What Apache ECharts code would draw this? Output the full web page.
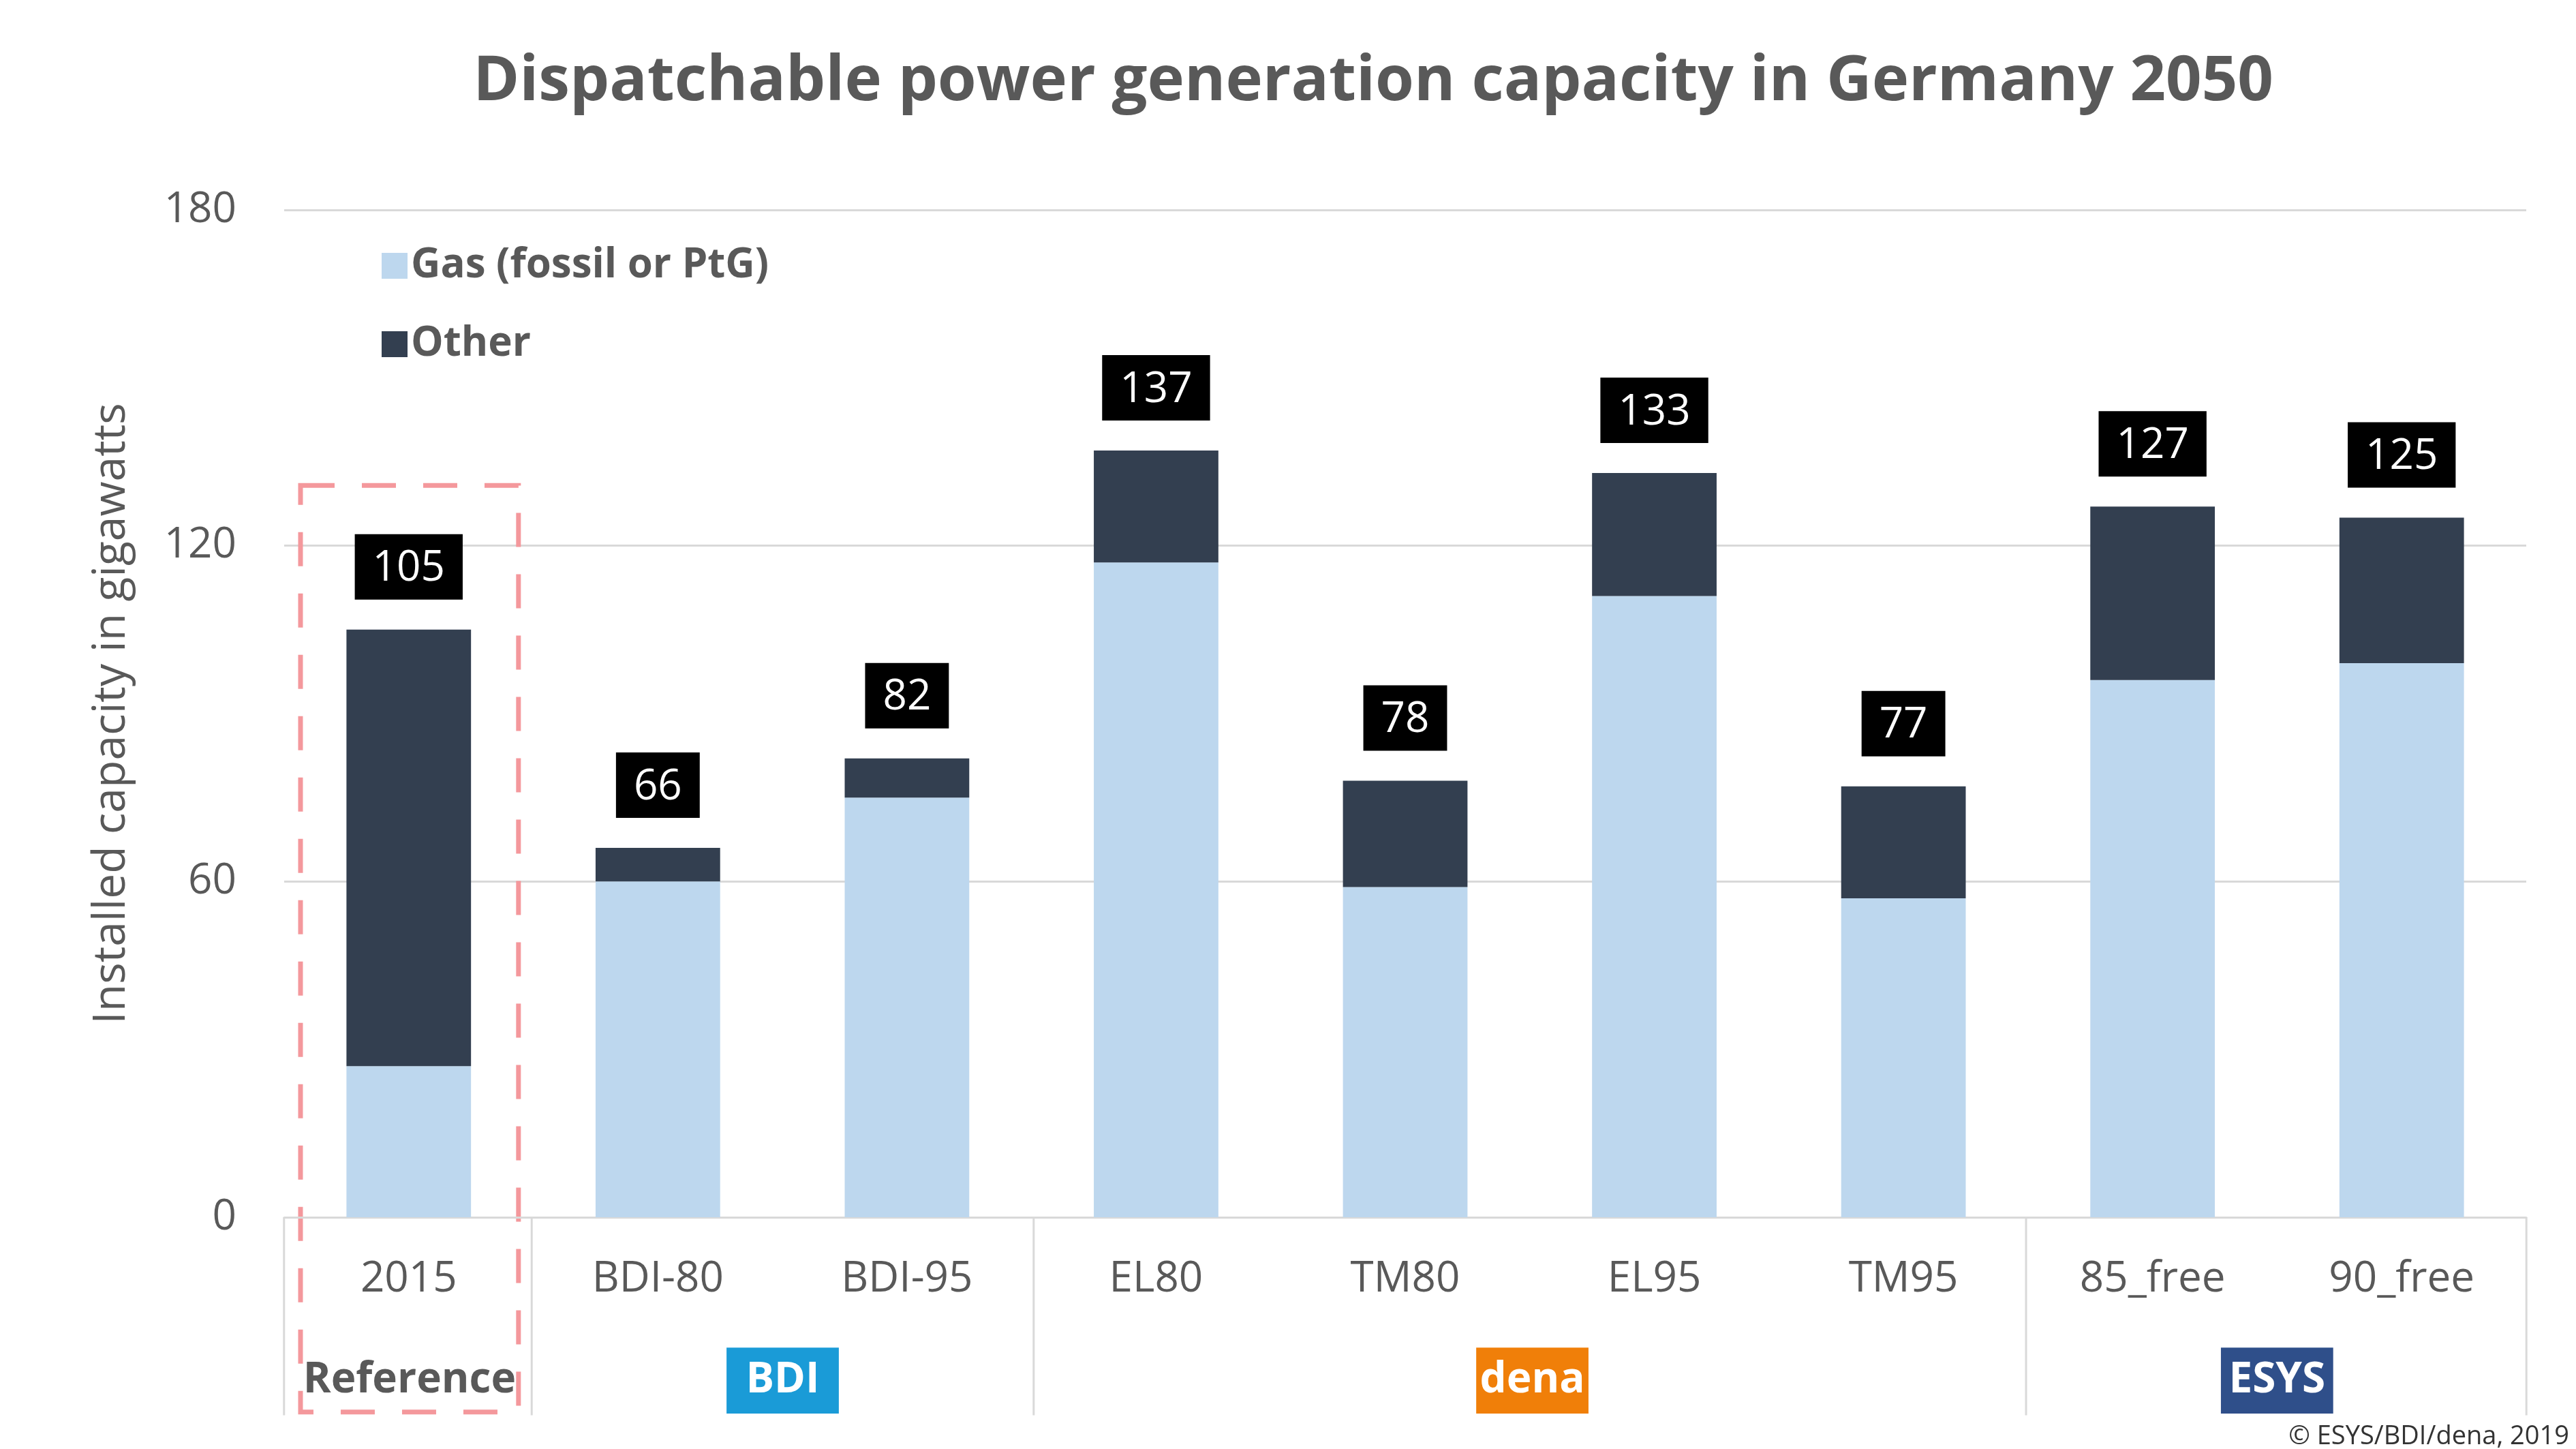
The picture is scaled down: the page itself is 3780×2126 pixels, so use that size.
<!DOCTYPE html>
<html>
<head>
<meta charset="utf-8">
<script src="https://cdn.jsdelivr.net/npm/echarts@6/dist/echarts.min.js"></script>
<style>html,body{margin:0;padding:0;background:#fff}#c{width:3780px;height:2126px}</style>
</head>
<body>
<div id="c"></div>
<script>
const categories = ["2015", "BDI-80", "BDI-95", "EL80", "TM80", "EL95", "TM95", "85_free", "90_free"];
const totals = [105, 66, 82, 137, 78, 133, 77, 127, 125];
const gas = [27, 60, 75, 117, 59, 111, 57, 96, 99];
const other = totals.map((t, i) => t - gas[i]);
const yTicks = [0, 60, 120, 180];

const FONT = "Open Sans";
const GREY = "#595959";
const chart = echarts.init(document.getElementById("c"));

const L = 417, R = 3707, TOP = 308, BOT = 1786;

const option = {
  animation: false,
  textStyle: { fontFamily: FONT },
  title: {
    text: "Dispatchable power generation capacity in Germany 2050",
    left: 2010, textAlign: "center", top: 70,
    textStyle: { fontSize: 92, fontWeight: "bold", color: GREY, fontFamily: FONT }
  },
  legend: {
    orient: "vertical", left: 555, top: 355, itemGap: 55,
    itemWidth: 38, itemHeight: 38, icon: "rect",
    textStyle: { fontSize: 60, fontWeight: "bold", color: GREY, fontFamily: FONT }
  },
  grid: { left: L, right: 3780 - R, top: TOP, bottom: 2126 - BOT },
  xAxis: {
    type: "category", data: categories,
    axisLine: { lineStyle: { color: "#d9d9d9", width: 3 } },
    axisTick: { show: false },
    axisLabel: { fontSize: 62, color: GREY, margin: 60 }
  },
  yAxis: {
    type: "value", min: 0, max: 180, interval: 60,
    name: "Installed capacity in gigawatts", nameLocation: "middle", nameGap: 220,
    nameTextStyle: { fontSize: 66, color: GREY },
    axisLabel: { fontSize: 62, color: GREY, margin: 70,
      formatter: v => yTicks.includes(v) ? String(v) : "" },
    splitLine: { lineStyle: { color: "#d9d9d9", width: 3 } }
  },
  series: [
    { name: "Gas (fossil or PtG)", type: "bar", stack: "a", data: gas, barWidth: "50%",
      itemStyle: { color: "#bdd7ee" } },
    { name: "Other", type: "bar", stack: "a", data: other,
      itemStyle: { color: "#333f50" },
      label: { show: true, position: "top", distance: 44,
        formatter: p => String(totals[p.dataIndex]),
        color: "#fff", fontSize: 62, backgroundColor: "#000",
        padding: [20, 26, 14, 26] } }
  ]
};
chart.setOption(option);

function sx(v) { return v * 2.423; }
const g = [];
[172, 322, 626, 1227, 1530].forEach(x => {
  g.push({ type: "line", shape: { x1: sx(x), y1: BOT, x2: sx(x), y2: sx(857) },
    style: { stroke: "#d9d9d9", lineWidth: 3 } });
});
g.push({ type: "rect", shape: { x: sx(182), y: sx(294), width: sx(132), height: sx(561) },
  style: { fill: null, stroke: "#f4989c", lineWidth: 7, lineDash: [50, 40] } });
g.push({ type: "text", x: sx(248), y: sx(836), style: { text: "Reference", fontSize: 62,
  fontWeight: "bold", fill: GREY, align: "center", verticalAlign: "middle", fontFamily: FONT } });
[["BDI", 474, "#1a9bd7"], ["dena", 928, "#f07f09"], ["ESYS", 1379, "#2f4f8a"]].forEach(([t, x, c]) => {
  g.push({ type: "rect", shape: { x: sx(x - 34), y: sx(816), width: sx(68), height: sx(40) }, style: { fill: c } });
  g.push({ type: "text", x: sx(x), y: sx(836), style: { text: t, fontSize: 62, fontWeight: "bold",
    fill: "#fff", align: "center", verticalAlign: "middle", fontFamily: FONT } });
});
g.push({ type: "text", x: 3770, y: sx(870), style: { text: "© ESYS/BDI/dena, 2019", fontSize: 38,
  fill: "#333", align: "right", verticalAlign: "middle", fontFamily: FONT } });
chart.setOption({ graphic: g });
</script>
</body>
</html>
